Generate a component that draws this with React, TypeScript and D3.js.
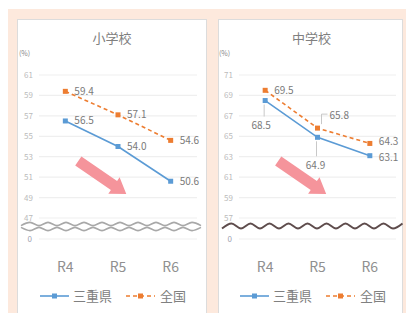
import React from 'react';
import * as d3 from 'd3';

const categories = ['R4', 'R5', 'R6'];
const seriesNames = ['三重県', '全国'];
const titles = ['小学校', '中学校'];
const elemMie = [56.5, 54.0, 50.6];
const elemNational = [59.4, 57.1, 54.6];
const juniorMie = [68.5, 64.9, 63.1];
const juniorNational = [69.5, 65.8, 64.3];
const elemTicks = [61, 59, 57, 55, 53, 51, 49, 47];
const juniorTicks = [71, 69, 67, 65, 63, 61, 59, 57];
const zeroTick = [0];

const BLUE = '#5b9bd5';
const ORANGE = '#ed7d31';
const FONT = '"Noto Sans CJK JP", "Noto Sans", sans-serif';

type LabelMode = { kind: 'right'; dy?: number } | { kind: 'aboveRight' } | { kind: 'below'; dx: number; dy: number };

interface ChartProps {
  plotL: number;
  plotR: number;
  ticks: number[];
  mie: number[];
  nat: number[];
  title: string;
  mieModes: LabelMode[];
  natModes: LabelMode[];
  breakKind: 'double' | 'single';
  breakL: number;
  breakR: number;
}

function wave(x0: number, x1: number, yc: number, amp: number, period: number, phase: number) {
  const pts: [number, number][] = [];
  let i = 0;
  for (let x = x0; x <= x1 + 0.01; x += period / 2) {
    pts.push([x, yc + (i % 2 === 0 ? amp : -amp) * phase]);
    i++;
  }
  return d3.line().curve(d3.curveMonotoneX)(pts) || '';
}

function Label({ x, y, v, mode }: { x: number; y: number; v: number; mode: LabelMode }) {
  const t = v.toFixed(1);
  const style = { fontFamily: FONT, fontSize: 10, fill: '#7a7a7a' } as const;
  if (mode.kind === 'right') {
    return <text x={x + 9} y={y + 3.5 + (mode.dy || 0)} style={style}>{t}</text>;
  }
  if (mode.kind === 'aboveRight') {
    return (
      <g>
        <path d={`M${x + 4},${y - 4}V${y - 14}H${x + 10}`} stroke="#c8c8c8" fill="none" strokeWidth={1} />
        <text x={x + 12} y={y - 9} style={style}>{t}</text>
      </g>
    );
  }
  return (
    <g>
      <line x1={x - 1} x2={x - 1} y1={y + 4} y2={y + mode.dy - 9} stroke="#c8c8c8" strokeWidth={1} />
      <text x={x + mode.dx} y={y + mode.dy + 3.5} textAnchor="middle" style={style}>{t}</text>
    </g>
  );
}

function Chart(p: ChartProps) {
  const x = d3.scaleBand().domain(categories).range([p.plotL, p.plotR]);
  const cx = (c: string) => (x(c) || 0) + x.bandwidth() / 2;
  const y = d3.scaleLinear().domain([p.ticks[p.ticks.length - 1], p.ticks[0]]).range([218, 75]);
  const zeroY = 239;
  const line = d3.line<number>().x((_, i) => cx(categories[i])).y((v) => y(v));
  const series = [
    { vals: p.mie, color: BLUE, dash: undefined as string | undefined, modes: p.mieModes },
    { vals: p.nat, color: ORANGE, dash: '4,3', modes: p.natModes },
  ];
  const midX = (p.plotL + p.plotR) / 2;
  // decorative arrow
  const ax0 = cx(categories[0]) + 13;
  const ay0 = y(p.ticks[0]) + 86;
  const ax1 = ax0 + 48;
  const ay1 = ay0 + 33;
  const ang = Math.atan2(ay1 - ay0, ax1 - ax0);
  const L = Math.hypot(ax1 - ax0, ay1 - ay0);
  const sw = 5.5, hw = 10, hl = 15;
  const arrowPts: [number, number][] = [
    [0, -sw], [L - hl, -sw], [L - hl, -hw], [L, 0], [L - hl, hw], [L - hl, sw], [0, sw],
  ];
  const arrowD = 'M' + arrowPts.map(([u, w]) => [
    ax0 + u * Math.cos(ang) - w * Math.sin(ang),
    ay0 + u * Math.sin(ang) + w * Math.cos(ang),
  ].map((n) => n.toFixed(1)).join(',')).join('L') + 'Z';

  return (
    <g>
      <text x={midX - 6} y={43} textAnchor="middle" style={{ fontFamily: FONT, fontSize: 13, fill: '#808080' }}>{p.title}</text>
      <text x={p.plotL - 20} y={56} style={{ fontFamily: FONT, fontSize: 7, fill: '#888' }}>(%)</text>
      {p.ticks.map((t) => (
        <g key={t}>
          <line x1={p.plotL} x2={p.plotR} y1={y(t)} y2={y(t)} stroke="#efefef" strokeWidth={1.2} />
          <text x={p.plotL - 6} y={y(t) + 3} textAnchor="end" style={{ fontFamily: FONT, fontSize: 8, fill: '#bbbbbb' }}>{t}</text>
        </g>
      ))}
      {zeroTick.map((t) => (
        <g key={'z' + t}>
          <line x1={p.plotL} x2={p.plotR} y1={zeroY} y2={zeroY} stroke="#efefef" strokeWidth={1.2} />
          <text x={p.plotL - 7} y={zeroY + 3} textAnchor="end" style={{ fontFamily: FONT, fontSize: 8, fill: '#a0a0b0' }}>{t}</text>
        </g>
      ))}
      {p.breakKind === 'double' ? (
        <g>
          <rect x={p.breakL} y={221} width={p.breakR - p.breakL} height={11} fill="#fff" />
          <path d={wave(p.breakL, p.breakR, 224, 1.6, 18, 1)} stroke="#a8a8a8" strokeWidth={1.6} fill="none" />
          <path d={wave(p.breakL, p.breakR, 229, 1.6, 18, -1)} stroke="#a8a8a8" strokeWidth={1.6} fill="none" />
        </g>
      ) : (
        <path d={wave(p.breakL, p.breakR, 226, 2.5, 19, 1)} stroke="#5e4c4c" strokeWidth={2} fill="none" />
      )}
      <path d={arrowD} fill="#f5949b" />
      {series.map((s, si) => (
        <g key={si}>
          <path d={line(s.vals) || ''} stroke={s.color} strokeWidth={1.6} fill="none" strokeDasharray={s.dash} />
          {s.vals.map((v, i) => (
            <rect key={i} x={cx(categories[i]) - 2.5} y={y(v) - 2.5} width={5} height={5} fill={s.color} />
          ))}
          {s.vals.map((v, i) => (
            <Label key={'l' + i} x={cx(categories[i])} y={y(v)} v={v} mode={s.modes[i]} />
          ))}
        </g>
      ))}
      {categories.map((c) => (
        <text key={c} x={cx(c)} y={272} textAnchor="middle" style={{ fontFamily: FONT, fontSize: 14, fill: '#909090' }}>{c}</text>
      ))}
      {series.map((s, si) => {
        const lx = p.plotL + 1 + si * 86;
        return (
          <g key={'leg' + si}>
            <line x1={lx} x2={lx + 29} y1={296} y2={296} stroke={s.color} strokeWidth={1.6} strokeDasharray={s.dash} />
            <rect x={lx + 12} y={293.5} width={5} height={5} fill={s.color} />
            <text x={lx + 33 + si} y={301} style={{ fontFamily: FONT, fontSize: 13, fill: '#808080' }}>{seriesNames[si]}</text>
          </g>
        );
      })}
    </g>
  );
}

export default function App() {
  const R: LabelMode = { kind: 'right' };
  return (
    <svg width={406} height={313} style={{ position: 'absolute', left: 0, top: 0 }}>
      <rect x={0} y={0} width={406} height={313} fill="#fff" />
      <rect x={8} y={9} width={398} height={304} fill="#fde9dd" />
      <rect x={17.5} y={19.5} width={189} height={294} fill="#fff" stroke="#dcdcdc" />
      <rect x={218.5} y={19.5} width={184} height={294} fill="#fff" stroke="#dcdcdc" />
      <Chart
        plotL={39} plotR={197} ticks={elemTicks} mie={elemMie} nat={elemNational} title={titles[0]}
        mieModes={[R, R, R]} natModes={[R, R, R]} breakKind="double" breakL={21} breakR={206}
      />
      <Chart
        plotL={239} plotR={396} ticks={juniorTicks} mie={juniorMie} nat={juniorNational} title={titles[1]}
        mieModes={[{ kind: 'below', dx: -4, dy: 25 }, { kind: 'below', dx: -2, dy: 28 }, { kind: 'right', dy: 1.5 }]}
        natModes={[R, { kind: 'aboveRight' }, { kind: 'right', dy: -1.5 }]} breakKind="single" breakL={222} breakR={404}
      />
    </svg>
  );
}
